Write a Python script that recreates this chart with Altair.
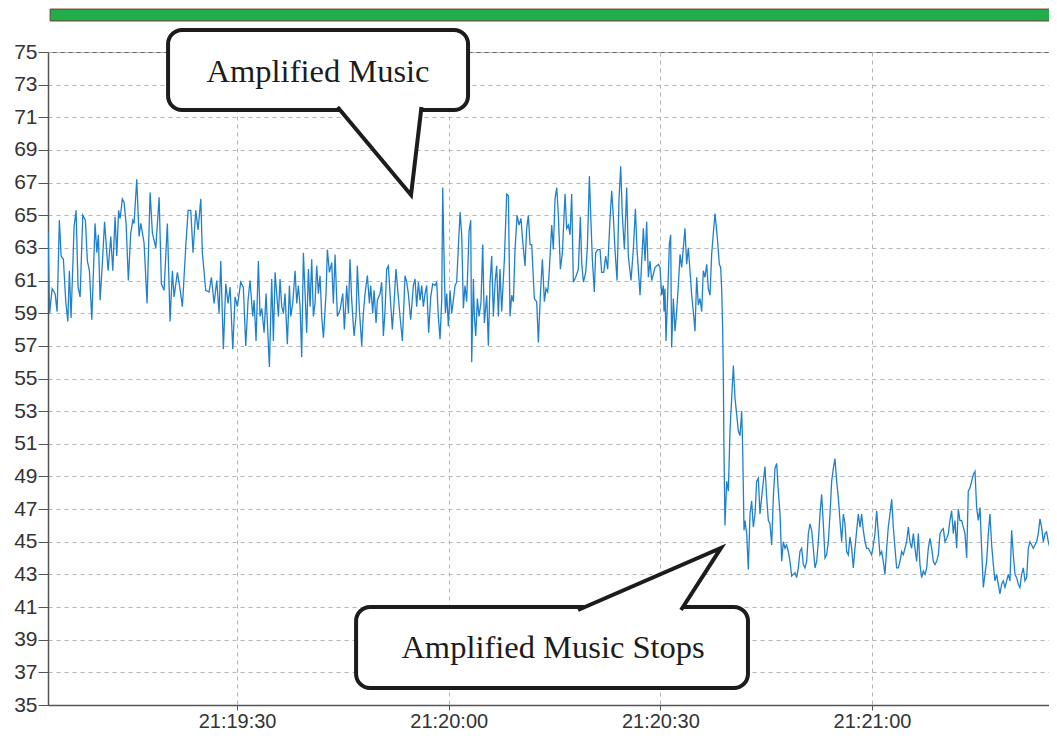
import altair as alt
import pandas as pd

# ---- sound level series: seconds relative to 21:19:30, level in dB ----
a_t = [-26.79, -26.57, -26.22, -25.79, -25.51, -25.19, -24.94, -24.62, -24.28, -23.99,
       -23.77, -23.53, -23.10, -22.82, -22.54, -22.25, -21.87, -21.50, -21.22, -20.93,
       -20.59, -20.13, -19.88, -19.66, -19.42, -19.13, -18.78, -18.28, -17.90, -17.62,
       -17.29, -17.05, -16.79, -16.58, -16.26, -16.02, -15.73, -15.41, -15.07, -14.78,
       -14.60, -14.22, -13.89, -13.65, -13.18, -12.76, -12.33, -12.00, -11.52, -11.05,
       -10.73, -10.35, -9.88, -9.50, -9.17, -8.93, -8.46, -8.12, -7.75, -7.27,
       -6.94, -6.56, -6.24, -5.85, -5.53, -5.14, -4.92, -4.44, -3.97, -3.64,
       -3.26, -2.88, -2.55, -2.31, -1.94, -1.60, -1.28, -0.99, -0.61, -0.28,
       0.04, 0.52, 0.89, 1.23, 1.56, 1.84]
a_db = [64.0, 59.0, 60.5, 60.2, 59.1, 64.7, 62.5, 62.3, 59.7, 58.5,
        61.6, 58.7, 64.3, 65.3, 60.6, 60.0, 65.0, 64.7, 62.2, 61.6,
        58.6, 64.5, 62.7, 63.8, 59.8, 61.8, 64.6, 61.6, 63.7, 61.6,
        64.9, 62.5, 65.3, 64.8, 66.0, 65.8, 64.5, 61.0, 63.9, 64.7,
        64.5, 67.2, 63.7, 64.5, 63.3, 59.6, 66.4, 63.9, 63.0, 66.1,
        60.8, 60.4, 64.5, 58.5, 61.6, 60.0, 61.5, 60.6, 59.4, 63.1,
        65.3, 65.3, 62.7, 65.3, 64.1, 66.0, 62.7, 60.4, 60.3, 61.2,
        59.6, 61.0, 59.0, 62.2, 56.8, 60.8, 59.6, 60.6, 56.8, 60.0,
        59.4, 60.9, 60.6, 57.0, 59.8, 61.0]

b_t = [2.22, 2.41, 2.69, 3.02, 3.26, 3.50, 3.83, 4.11, 4.30, 4.58,
       4.91, 5.15, 5.39, 5.62, 5.86, 6.09, 6.33, 6.57, 6.80, 7.13,
       7.42, 7.61, 7.89, 8.22, 8.46, 8.69, 8.93, 9.16, 9.40, 9.64,
       9.87, 10.11, 10.35, 10.58, 10.82, 11.05, 11.29, 11.53, 11.76, 12.00,
       12.24, 12.61, 12.80, 13.09, 13.42, 13.65, 13.89, 14.22, 14.60, 14.98,
       15.21, 15.54, 15.78, 16.01, 16.25, 16.58, 16.87, 17.05, 17.34, 17.67,
       17.90, 18.14, 18.47, 18.76, 18.94, 19.23, 19.42, 19.70, 19.89, 20.27,
       20.50, 20.74, 20.98, 21.21, 21.45, 21.68, 22.01, 22.25, 22.53, 22.72,
       23.10, 23.43, 23.81, 24.05, 24.28, 24.61, 24.99, 25.23, 25.46, 25.70,
       25.94, 26.17, 26.41, 26.64, 26.88, 27.16, 27.45, 27.73, 28.06, 28.30,
       28.53, 28.77, 29.01, 29.15, 29.38, 29.53, 29.72, 29.95, 30.19, 30.42,
       30.66, 30.90]
b_db = [58.8, 59.8, 57.3, 62.2, 58.8, 59.3, 57.8, 60.2, 58.4, 55.7,
        61.1, 57.3, 61.5, 60.2, 58.8, 61.1, 59.4, 59.0, 60.2, 57.1,
        60.7, 58.8, 59.6, 61.6, 59.6, 60.7, 59.4, 56.3, 62.7, 60.2,
        57.8, 61.7, 59.4, 62.3, 58.8, 59.6, 61.9, 60.2, 61.3, 58.8,
        57.5, 60.2, 62.9, 61.5, 62.1, 59.6, 62.6, 58.8, 59.2, 60.2,
        58.0, 60.7, 59.0, 62.3, 59.8, 57.6, 58.8, 61.9, 59.2, 57.0,
        59.0, 60.2, 61.3, 59.6, 60.7, 59.0, 60.4, 58.4, 59.8, 60.2,
        60.9, 57.6, 59.2, 61.7, 61.9, 60.2, 58.0, 59.6, 61.7, 60.7,
        58.8, 57.3, 61.3, 60.9, 60.2, 58.6, 60.7, 61.1, 59.4, 60.9,
        59.8, 60.7, 59.4, 60.2, 60.7, 57.8, 60.0, 60.8, 60.7, 60.9,
        58.8, 57.4, 59.8, 66.7, 61.5, 59.0, 60.2, 58.2, 60.4, 59.0,
        59.8, 60.7]

c_t = [31.13, 31.61, 31.84, 32.08, 32.31, 32.55, 32.88, 33.12, 33.26, 33.50,
       33.64, 33.83, 34.06, 34.30, 34.58, 34.82, 35.05, 35.39, 35.62, 35.86,
       36.09, 36.33, 36.57, 36.80, 37.04, 37.27, 37.51, 37.89, 38.22, 38.46,
       38.69, 38.93, 39.17, 39.40, 39.69, 39.97, 40.25, 40.49, 40.82, 41.05,
       41.29, 41.53, 41.76, 42.14, 42.47, 42.71, 42.99, 43.28, 43.56, 43.79,
       44.03, 44.22, 44.60, 44.83, 45.07, 45.31, 45.54, 45.83, 46.11, 46.49,
       46.72, 46.96, 47.20, 47.43, 47.67, 48.00, 48.38, 48.66, 48.85, 49.09,
       49.42, 49.65, 49.94, 50.13, 50.36, 50.64, 50.83, 51.12, 51.45, 51.68,
       51.97, 52.25, 52.53, 52.87, 53.10, 53.34, 53.57, 53.86, 54.14, 54.38,
       54.61, 54.90, 55.23, 55.46, 55.84, 56.17, 56.46, 56.69]
c_db = [60.9, 65.2, 63.8, 59.3, 60.7, 59.7, 64.0, 64.7, 56.0, 61.1,
        58.8, 57.6, 59.9, 58.8, 59.7, 63.2, 58.4, 60.1, 57.0, 60.9,
        62.5, 58.8, 60.9, 61.9, 58.8, 61.7, 59.1, 62.3, 66.3, 66.2,
        58.8, 60.1, 59.7, 62.9, 65.0, 64.4, 64.8, 63.4, 61.9, 64.2,
        65.0, 63.2, 63.2, 59.9, 59.7, 57.2, 60.1, 62.3, 59.7, 60.5,
        60.3, 61.3, 64.4, 62.9, 66.0, 66.7, 65.0, 61.7, 62.7, 66.3,
        64.2, 64.4, 63.8, 66.3, 60.9, 61.2, 61.7, 64.9, 62.1, 60.9,
        61.5, 63.0, 67.4, 65.0, 62.3, 60.3, 62.7, 62.9, 62.9, 61.5,
        61.5, 62.5, 61.7, 64.8, 66.5, 64.9, 62.9, 61.0, 66.0, 68.0,
        65.0, 62.9, 66.7, 62.5, 61.0, 62.9, 65.4, 62.9]

d_t = [57.12, 57.59, 57.83, 58.06, 58.30, 58.53, 58.77, 59.01, 59.24, 59.72,
       59.95, 60.19, 60.42, 60.52, 60.66, 60.80, 60.99, 61.27, 61.46, 61.60,
       61.84, 62.08, 62.31, 62.55, 62.79, 63.02, 63.26, 63.49, 63.73, 63.97,
       64.20, 64.44, 64.68, 64.91, 65.15, 65.38, 65.62, 65.86, 66.09, 66.33,
       66.57, 66.80, 67.04, 67.27, 67.51, 67.75, 68.08, 68.36, 68.55, 68.69,
       68.83, 68.93]
d_db = [60.1, 64.2, 62.2, 64.6, 61.2, 62.2, 61.0, 61.4, 61.8, 62.0,
        61.8, 60.1, 60.7, 59.1, 60.5, 57.3, 59.5, 63.2, 63.8, 56.9,
        59.9, 57.9, 59.1, 60.7, 62.6, 61.8, 63.0, 64.2, 62.0, 63.0,
        61.6, 60.1, 59.1, 57.9, 61.2, 59.5, 59.9, 59.1, 61.6, 61.2,
        62.0, 60.5, 60.1, 62.6, 63.9, 65.1, 63.6, 62.0, 61.8, 60.5,
        58.1, 55.0]

e_t = [69.02, 69.16, 69.40, 69.64, 69.87, 70.11, 70.35, 70.58, 70.82, 71.05,
       71.29, 71.53, 71.67, 71.86, 72.00, 72.24, 72.47]
e_db = [50.5, 46.0, 48.7, 48.1, 51.8, 53.8, 55.8, 53.8, 52.8, 51.8,
        51.5, 53.0, 50.7, 45.7, 46.3, 45.5, 43.3]

f_t = [72.71, 72.94, 73.18, 73.42, 73.65, 73.89, 74.12, 74.36, 74.60, 74.83,
       75.07, 75.31, 75.54, 75.78, 76.01, 76.25, 76.49, 76.72, 76.96, 77.20,
       77.43, 77.67, 77.90, 78.14, 78.38, 78.61, 78.85, 79.09, 79.32, 79.56,
       79.79, 80.03, 80.27, 80.50, 80.74, 80.98, 81.21, 81.45, 81.68, 81.92,
       82.16, 82.39, 82.63, 82.86, 83.10, 83.34, 83.57, 83.81, 84.05, 84.28,
       84.52, 84.75, 84.99, 85.23, 85.46, 85.70, 85.94, 86.17, 86.41, 86.64,
       86.88, 87.12, 87.35, 87.59, 87.83, 88.06, 88.30, 88.53, 88.77, 89.01,
       89.24, 89.48, 89.72, 89.95, 90.19, 90.42, 90.66, 90.90, 91.13, 91.37,
       91.60, 91.84, 92.08, 92.31, 92.55, 92.79, 93.02, 93.26, 93.49, 93.73,
       93.97, 94.20, 94.44, 94.68, 94.91, 95.15, 95.38, 95.62, 95.86, 96.09,
       96.33, 96.57, 96.80, 97.04, 97.27, 97.51, 97.75, 97.98, 98.22, 98.46,
       98.69, 98.93, 99.16, 99.40, 99.64, 99.87, 100.11, 100.35, 100.58, 100.82,
       101.05, 101.29, 101.53, 101.76, 102.00, 102.23, 102.47, 102.71, 102.94, 103.18,
       103.42, 103.65, 103.89, 104.12, 104.36, 104.60, 104.83, 105.07, 105.31, 105.54,
       105.78, 106.01, 106.25, 106.49, 106.72, 106.96, 107.20, 107.43, 107.67, 107.90,
       108.14, 108.38, 108.61, 108.85, 109.09, 109.32, 109.56, 109.79, 110.03, 110.27,
       110.50, 110.74, 110.97, 111.21, 111.45, 111.68, 111.92, 112.16, 112.39, 112.63,
       112.86, 113.10, 113.34, 113.57, 113.81, 114.04, 114.28, 114.52, 114.75, 114.99,
       115.23, 115.46, 115.70, 115.93, 116.17]
f_db = [46.7, 47.5, 45.9, 46.7, 48.7, 48.9, 46.7, 47.7, 48.7, 49.6,
        47.7, 46.3, 46.1, 44.8, 47.7, 49.5, 49.8, 48.1, 46.7, 43.8,
        45.0, 44.6, 44.8, 44.4, 43.8, 42.9, 43.0, 43.1, 42.8, 43.4,
        44.4, 44.6, 43.6, 43.4, 43.8, 45.5, 46.1, 45.7, 44.6, 43.4,
        43.8, 45.0, 46.7, 47.9, 46.1, 44.0, 44.2, 45.0, 46.7, 48.7,
        49.5, 50.1, 48.7, 47.7, 46.3, 45.0, 46.7, 46.1, 44.4, 44.2,
        45.3, 44.6, 43.4, 44.6, 45.7, 46.7, 45.9, 46.7, 45.7, 45.0,
        44.6, 44.6, 44.4, 44.2, 44.8, 45.5, 46.9, 45.5, 44.2, 44.4,
        43.8, 43.0, 44.6, 45.9, 46.7, 47.6, 45.9, 44.6, 43.4, 43.4,
        43.8, 44.4, 44.2, 44.6, 45.0, 45.9, 45.0, 44.6, 45.5, 44.6,
        43.8, 45.5, 43.6, 42.8, 43.2, 43.0, 43.4, 44.6, 45.2, 44.6,
        43.8, 43.6, 43.8, 44.2, 45.5, 45.7, 45.8, 45.0, 45.2, 45.5,
        46.3, 46.9, 45.5, 46.3, 44.6, 47.0, 46.3, 46.3, 45.9, 45.5,
        44.0, 48.1, 48.3, 48.7, 49.1, 49.3, 47.1, 46.3, 47.1, 44.6,
        42.2, 43.0, 43.8, 45.5, 46.7, 44.8, 43.6, 42.6, 43.0, 42.4,
        41.8, 42.4, 42.6, 42.2, 42.6, 43.0, 42.6, 45.7, 44.2, 43.0,
        42.8, 42.4, 42.2, 43.0, 43.4, 42.6, 42.8, 44.6, 45.0, 44.8,
        44.6, 44.8, 45.0, 45.5, 46.4, 45.9, 45.0, 45.5, 45.6, 45.0,
        44.6, 44.2, 43.6, 43.4, 42.8]

series = pd.DataFrame({
    "t": a_t + b_t + c_t + d_t + e_t + f_t,
    "db": a_db + b_db + c_db + d_db + e_db + f_db,
})

# ---- annotations (data units: seconds rel. 21:19:30, dB) ----
box_text = ["Amplified Music", "Amplified Music Stops"]
box_x = [-9.78, 16.87]
box_x2 = [32.74, 72.42]
box_y = [71.45, 36.04]
box_y2 = [76.35, 41.0]
text_x = [11.48, 44.79]
text_y = [73.77, 38.49]

tail1_t = [14.24, 24.66, 26.14]
tail1_db = [71.63, 66.24, 71.63]
tail2_t = [48.33, 68.60, 62.93]
tail2_db = [40.82, 44.62, 40.82]

band_t = [-26.5, 117.0]
band_db = [76.90, 77.63]

X_DOM = [-26.8, 115.09]
Y_DOM = [35, 75]

boxes = pd.DataFrame({"label": box_text, "x": box_x, "x2": box_x2,
                      "y": box_y, "y2": box_y2, "tx": text_x, "ty": text_y})
tails = pd.DataFrame({
    "t": tail1_t + tail2_t,
    "db": tail1_db + tail2_db,
    "grp": ["a"] * 3 + ["b"] * 3,
    "i": [0, 1, 2, 0, 1, 2],
})
band = pd.DataFrame({"x": [band_t[0]], "x2": [band_t[1]],
                     "y": [band_db[0]], "y2": [band_db[1]]})

xs = alt.Scale(domain=X_DOM, nice=False, zero=False)
ys = alt.Scale(domain=Y_DOM, nice=False, zero=False)

x_axis = alt.Axis(
    values=[0, 30, 60, 90],
    labelExpr="timeFormat(datetime(2020,0,1,21,19,30+datum.value),'%H:%M:%S')",
    title=None, grid=True, gridDash=[4, 4], gridColor="#b5b5b5", gridWidth=1,
    domainColor="#555555", domainWidth=1.5, tickColor="#555555", tickSize=5,
    labelFont="Liberation Sans", labelFontSize=20, labelColor="#333333",
    labelPadding=1,
)
y_axis = alt.Axis(
    values=list(range(35, 76, 2)), title=None, grid=True, gridDash=[4, 4],
    gridColor="#b5b5b5", gridWidth=1, domainColor="#555555", domainWidth=1.5,
    tickColor="#555555", tickSize=10, labelFont="Liberation Sans",
    labelFontSize=21, labelColor="#333333", labelPadding=1,
)


def xenc(field):
    return alt.X(field, type="quantitative", scale=xs, axis=x_axis)


def yenc(field):
    return alt.Y(field, type="quantitative", scale=ys, axis=y_axis)


line = alt.Chart(series).mark_line(color="#2080cc", strokeWidth=1.3, clip=True).encode(
    x=xenc("t"), y=yenc("db"),
)

band_layer = alt.Chart(band).mark_rect(fill="#1fae4a", stroke="#7a3a30", strokeWidth=1).encode(
    x=xenc("x"), x2="x2:Q", y=yenc("y"), y2="y2:Q",
)

box_layer = alt.Chart(boxes).mark_rect(
    fill="white", stroke="#1c1c1c", strokeWidth=4, cornerRadius=14
).encode(
    x=xenc("x"), x2="x2:Q", y=yenc("y"), y2="y2:Q",
)

tail_layer = alt.Chart(tails).mark_line(
    color="#1c1c1c", fill="white", strokeWidth=4, strokeJoin="miter"
).encode(
    x=xenc("t"), y=yenc("db"),
    detail="grp:N",
    order="i:Q",
)

text_layer = alt.Chart(boxes).mark_text(
    font="Liberation Serif", fontSize=32.5, color="#1c1c1c", align="center", baseline="middle"
).encode(
    x=xenc("tx"), y=yenc("ty"),
    text="label:N",
)

chart = alt.layer(line, band_layer, box_layer, tail_layer, text_layer).properties(
    width=1001, height=653,
    autosize=alt.AutoSizeParams(type="none"),
    padding={"left": 40, "top": 44, "right": 0, "bottom": 26},
    background="white",
).configure_view(stroke="#666666", strokeWidth=1)

chart.save("out.html", embed_options={"renderer": "svg", "actions": False})
